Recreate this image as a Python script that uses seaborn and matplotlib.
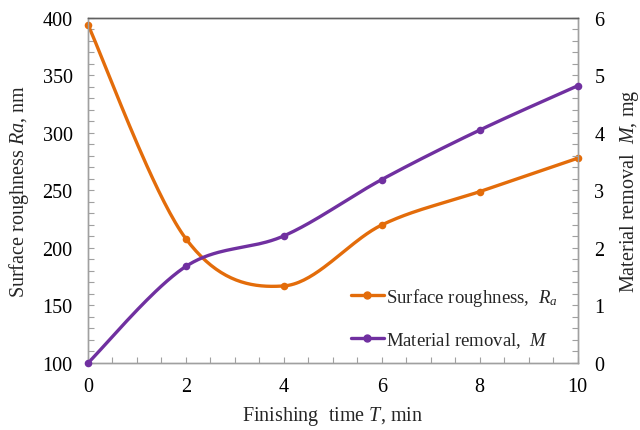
import numpy as np
import pandas as pd
import matplotlib
matplotlib.use("Agg")
import matplotlib.pyplot as plt
from matplotlib.ticker import MultipleLocator
from matplotlib.lines import Line2D
import seaborn as sns

# ---- data ----
time_min = [0, 2, 4, 6, 8, 10]
roughness_nm = [394, 208, 167, 220, 249, 278]
removal_mg = [0.0, 1.68, 2.21, 3.19, 4.05, 4.82]

ORANGE = "#E36C0A"
PURPLE = "#7030A0"
FRAME = "#A0A0A0"
FRAME_TOP = "#606060"

sns.set_theme(style="white")
plt.rcParams["font.family"] = ["Liberation Serif", "DejaVu Serif"]
plt.rcParams["mathtext.fontset"] = "custom"
plt.rcParams["mathtext.rm"] = "Liberation Serif"
plt.rcParams["mathtext.it"] = "Liberation Serif:italic"


def smooth(xs, ys, n=40):
    """Excel-style smoothed line (cubic Bezier through the data points)."""
    xs = np.asarray(xs, float)
    ys = np.asarray(ys, float)
    P = np.column_stack([xs, ys])
    m = len(P)
    out = []
    for i in range(m - 1):
        p0 = P[max(i - 1, 0)]
        p1 = P[i]
        p2 = P[i + 1]
        p3 = P[min(i + 2, m - 1)]
        b1 = p1 + (p2 - p0) / 6.0
        b2 = p2 - (p3 - p1) / 6.0
        t = np.linspace(0, 1, n)[:, None]
        seg = ((1 - t) ** 3) * p1 + 3 * ((1 - t) ** 2) * t * b1 + 3 * (1 - t) * t ** 2 * b2 + t ** 3 * p2
        out.append(seg if i == 0 else seg[1:])
    arr = np.vstack(out)
    return arr[:, 0], arr[:, 1]


fig = plt.figure(figsize=(6.4, 4.31), dpi=100)
ax = fig.add_axes([0.1375, 0.1555, 0.765, 0.8005])
ax2 = ax.twinx()

# Surface roughness (left axis)
sx, sy = smooth(time_min, roughness_nm)
sns.lineplot(x=sx, y=sy, ax=ax, color=ORANGE, linewidth=2.4, sort=False, legend=False, clip_on=False)
sns.scatterplot(x=time_min, y=roughness_nm, ax=ax, color=ORANGE, s=30, edgecolor=ORANGE,
                linewidth=0, zorder=5, legend=False, clip_on=False)

# Material removal (right axis)
mx, my = smooth(time_min, removal_mg)
sns.lineplot(x=mx, y=my, ax=ax2, color=PURPLE, linewidth=2.4, sort=False, legend=False, clip_on=False)
sns.scatterplot(x=time_min, y=removal_mg, ax=ax2, color=PURPLE, s=30, edgecolor=PURPLE,
                linewidth=0, zorder=5, legend=False, clip_on=False)

ax.set_xlim(0, 10)
ax.set_ylim(100, 400)
ax2.set_ylim(0, 6)

ax.xaxis.set_major_locator(MultipleLocator(2))
ax.xaxis.set_minor_locator(MultipleLocator(0.5))
ax.yaxis.set_major_locator(MultipleLocator(50))
ax.yaxis.set_minor_locator(MultipleLocator(10))
ax2.yaxis.set_major_locator(MultipleLocator(1))
ax2.yaxis.set_minor_locator(MultipleLocator(0.2))

for a in (ax, ax2):
    for name, sp in a.spines.items():
        sp.set_color(FRAME_TOP if name == "top" else FRAME)
        sp.set_linewidth(1.0)
        sp.set_visible(True)
    a.tick_params(which="both", direction="in", color=FRAME, labelsize=14.5, labelcolor="black")
    a.tick_params(which="major", length=4.5, width=0.8)
    a.tick_params(which="minor", length=4.5, width=0.8)

ax.tick_params(axis="x", which="both", bottom=True, top=False, pad=10)
ax.tick_params(axis="y", which="both", left=True, right=False, pad=11)
ax2.tick_params(axis="y", which="both", right=True, left=False, pad=12)
ax2.tick_params(axis="x", which="both", bottom=False, top=False)

ax.set_xlabel(r"Finishing  time $\it{T}$, min", fontsize=14.5, labelpad=6)
ax.set_ylabel(r"Surface roughness $\it{Ra}$, nm", fontsize=14.5, labelpad=8)
ax2.set_ylabel(r"Material removal  $\it{M}$, mg", fontsize=14.5, rotation=90, va="center")
ax2.yaxis.set_label_coords(1.106, 0.5)

handles = [
    Line2D([0], [0], color=ORANGE, lw=2.4, marker="o", markersize=5),
    Line2D([0], [0], color=PURPLE, lw=2.4, marker="o", markersize=5),
]
labels = [r"Surface roughness,  $\it{R}_{\it{a}}$", r"Material removal,  $\it{M}$"]
leg = ax.legend(handles, labels, loc="lower left", bbox_to_anchor=(0.51, 0.0), frameon=False,
                fontsize=13.5, handlelength=1.75, handletextpad=0.1, labelspacing=1.2,
                borderaxespad=0.3)

fig.savefig("out.png", dpi=100)
